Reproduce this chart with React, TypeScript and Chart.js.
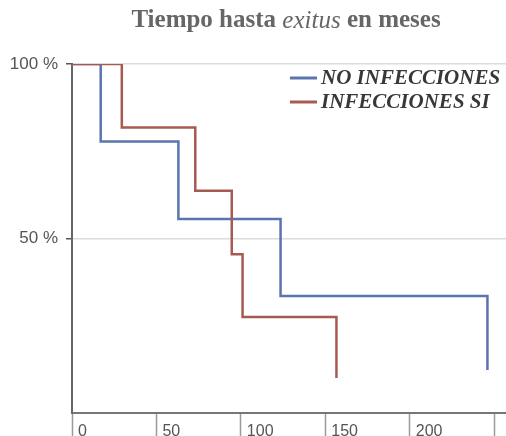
import { useEffect, useRef } from 'react';
import { Chart, registerables } from 'chart.js';

Chart.register(...registerables);

const TITLE_PARTS = [
  { text: 'Tiempo hasta ', style: 'bold' },
  { text: 'exitus', style: 'italic' },
  { text: ' en meses', style: 'bold' },
];
const SERIES_LABELS = ['NO INFECCIONES', 'INFECCIONES SI'];
const NO_INF_MONTHS = [0, 17, 63, 123.5, 246];
const NO_INF_SURV = [100, 77.8, 55.6, 33.5, 12.3];
const INF_MONTHS = [0, 29.5, 73, 94.6, 101, 156.6];
const INF_SURV = [100, 81.8, 63.7, 45.5, 27.5, 10];
const X_TICKS = [0, 50, 100, 150, 200, 250];
const X_TICK_LABELS = ['0', '50', '100', '150', '200', ''];
const Y_TICKS = [50, 100];
const Y_TICK_LABELS = ['50 %', '100 %'];

const BLUE = '#5a74b0';
const RED = '#a65a50';

const overlayPlugin = {
  id: 'overlay',
  afterDraw(chart: any) {
    const ctx = chart.ctx;
    const area = chart.chartArea;
    ctx.save();
    // title
    const size = 25;
    const fam = '"Liberation Serif", "Times New Roman", serif';
    const fonts = TITLE_PARTS.map((p) =>
      p.style === 'bold' ? `bold ${size}px ${fam}` : `italic ${size}px ${fam}`
    );
    let total = 0;
    const widths = TITLE_PARTS.map((p, i) => {
      ctx.font = fonts[i];
      const w = ctx.measureText(p.text).width;
      total += w;
      return w;
    });
    let x = (area.left + area.right) / 2 - total / 2 - 3;
    ctx.fillStyle = '#666';
    ctx.textBaseline = 'middle';
    ctx.textAlign = 'left';
    TITLE_PARTS.forEach((p, i) => {
      ctx.font = fonts[i];
      ctx.fillText(p.text, x, 21);
      x += widths[i];
    });
    // legend
    const rows = [78, 102];
    chart.data.datasets.forEach((ds: any, i: number) => {
      const y = rows[i];
      ctx.strokeStyle = ds.borderColor;
      ctx.lineWidth = 3;
      ctx.beginPath();
      ctx.moveTo(290, y);
      ctx.lineTo(317, y);
      ctx.stroke();
      ctx.font = `italic bold 21px ${fam}`;
      ctx.fillStyle = '#383838';
      ctx.fillText(ds.label, 321, y + 1);
    });
    ctx.restore();
  },
};

export default function App() {
  const ref = useRef<HTMLCanvasElement | null>(null);
  useEffect(() => {
    if (!ref.current) return;
    const chart = new Chart(ref.current, {
      type: 'line',
      data: {
        datasets: [
          {
            label: SERIES_LABELS[0],
            data: NO_INF_MONTHS.map((m, i) => ({ x: m, y: NO_INF_SURV[i] })),
            borderColor: BLUE,
            borderWidth: 2.5,
            pointRadius: 0,
            stepped: true,
            order: 1,
          },
          {
            label: SERIES_LABELS[1],
            data: INF_MONTHS.map((m, i) => ({ x: m, y: INF_SURV[i] })),
            borderColor: RED,
            borderWidth: 2.5,
            pointRadius: 0,
            stepped: true,
            order: 0,
          },
        ],
      },
      options: {
        animation: false,
        responsive: false,
        layout: { padding: { top: 64, left: 0, right: 0, bottom: 0 } },
        plugins: {
          legend: { display: false },
          title: { display: false },
          tooltip: { enabled: false },
        },
        scales: {
          x: {
            type: 'linear',
            min: 0,
            max: 257,
            afterBuildTicks: (s: any) => {
              s.ticks = X_TICKS.map((v) => ({ value: v }));
            },
            afterFit: (s: any) => {
              s.height = 23;
              s.paddingLeft = 0;
              s.paddingRight = 0;
            },
            ticks: {
              align: 'start',
              labelOffset: 6,
              padding: -14,
              color: '#555',
              font: { family: '"Liberation Sans", Arial, sans-serif', size: 16 },
              callback: (v: any) => X_TICK_LABELS[X_TICKS.indexOf(v)] ?? '',
            },
            grid: {
              drawOnChartArea: false,
              drawTicks: true,
              tickLength: 23,
              tickColor: '#9a9a9a',
              tickWidth: 1.5,
            },
            border: { color: '#777', width: 2 },
          },
          y: {
            min: 0,
            max: 100,
            afterBuildTicks: (s: any) => {
              s.ticks = Y_TICKS.map((v) => ({ value: v }));
            },
            afterFit: (s: any) => {
              s.width = 72;
            },
            ticks: {
              padding: 8,
              color: '#555',
              font: { family: '"Liberation Sans", Arial, sans-serif', size: 17 },
              callback: (v: any) => Y_TICK_LABELS[Y_TICKS.indexOf(v)] ?? '',
            },
            grid: {
              color: '#dcdcdc',
              lineWidth: 1.5,
              tickLength: 6,
              tickColor: '#555',
              tickWidth: 1.5,
            },
            border: { color: '#666', width: 2 },
          },
        },
      } as any,
      plugins: [overlayPlugin],
    });
    return () => chart.destroy();
  }, []);
  return (
    <div style={{ position: 'fixed', left: 0, top: 0, width: 506, height: 436, background: '#fff' }}>
      <canvas ref={ref} width={506} height={436} />
    </div>
  );
}
